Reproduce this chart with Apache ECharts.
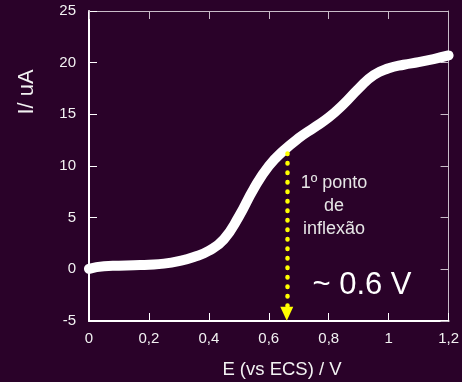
<!DOCTYPE html>
<html>
<head>
<meta charset="utf-8">
<style>html,body{margin:0;padding:0;background:#2a0229;}#c{width:462px;height:382px;}</style>
<script src="https://cdn.jsdelivr.net/npm/echarts@6/dist/echarts.min.js"></script>
</head>
<body>
<div id="c"></div>
<script>
const E = [0, 0.05, 0.1, 0.15, 0.2, 0.25, 0.3, 0.35, 0.4, 0.45, 0.5, 0.55, 0.6, 0.65, 0.7, 0.75, 0.8, 0.85, 0.9, 0.95, 1.0, 1.05, 1.1, 1.15, 1.2];
const I = [0.05, 0.3, 0.35, 0.4, 0.45, 0.55, 0.8, 1.2, 1.8, 2.9, 5.1, 7.8, 10.0, 11.5, 12.7, 13.7, 14.7, 16.0, 17.5, 18.8, 19.45, 19.8, 20.05, 20.35, 20.7];
const xTicks = [0, 0.2, 0.4, 0.6, 0.8, 1, 1.2];
const yTicks = [-5, 0, 5, 10, 15, 20, 25];
const arrowX = 0.66, arrowTop = 11.2, arrowBottom = -4.3;

const font = '"Liberation Sans", Arial, sans-serif';
const fmtX = v => String(Math.round(v * 10) / 10).replace('.', ',');
const chart = echarts.init(document.getElementById('c'));
const common = { min: 0, max: 1.2, interval: 0.2 };
chart.setOption({
  backgroundColor: '#2a0229',
  animation: false,
  grid: { left: 89, right: 8, top: 11, bottom: 61 },
  xAxis: [
    { type: 'value', ...common, position: 'bottom',
      axisLine: { show: true, onZero: false, lineStyle: { color: '#ffffff', width: 2 } },
      axisTick: { show: true, inside: true, length: 8, lineStyle: { color: '#ffffff', width: 1 } },
      axisLabel: { color: '#f2f2f2', fontSize: 15, fontFamily: font, margin: 10, formatter: fmtX },
      splitLine: { show: false } },
    { type: 'value', ...common, position: 'top',
      axisLine: { show: true, onZero: false, lineStyle: { color: '#c8bcc8', width: 1 } },
      axisTick: { show: true, inside: true, length: 8, lineStyle: { color: '#c8bcc8', width: 1 } },
      axisLabel: { show: false }, splitLine: { show: false } }
  ],
  yAxis: [
    { type: 'value', min: -5, max: 25, interval: 5, position: 'left',
      axisLine: { show: true, onZero: false, lineStyle: { color: '#ffffff', width: 2 } },
      axisTick: { show: true, inside: true, length: 8, lineStyle: { color: '#ffffff', width: 1 } },
      axisLabel: { color: '#f2f2f2', fontSize: 15, fontFamily: font, margin: 13 },
      splitLine: { show: false } },
    { type: 'value', min: -5, max: 25, interval: 5, position: 'right',
      axisLine: { show: true, onZero: false, lineStyle: { color: '#c8bcc8', width: 1 } },
      axisTick: { show: true, inside: true, length: 8, lineStyle: { color: '#c8bcc8', width: 1 } },
      axisLabel: { show: false }, splitLine: { show: false } }
  ],
  series: [{
    type: 'line',
    data: E.map((e, i) => [e, I[i]]),
    smooth: true,
    symbol: 'none',
    clip: false,
    lineStyle: { color: '#ffffff', width: 10, cap: 'round', join: 'round' },
    markLine: {
      silent: true,
      symbol: ['none', 'triangle'],
      symbolSize: [13, 14],
      label: { show: false },
      lineStyle: { color: '#ffff00', width: 4.5, type: [0.5, 9], cap: 'round' },
      data: [[{ coord: [arrowX, arrowTop] }, { coord: [arrowX, arrowBottom] }]]
    }
  }],
  graphic: [
    { type: 'text', x: 27, y: 92, rotation: Math.PI / 2,
      style: { text: 'I/ uA', fill: '#f2f2f2', font: '22px ' + font, align: 'center', verticalAlign: 'middle' } },
    { type: 'text', x: 282, y: 370,
      style: { text: 'E (vs ECS) / V', fill: '#f2f2f2', font: '18.5px ' + font, align: 'center', verticalAlign: 'middle' } },
    { type: 'text', x: 334, y: 206,
      style: { text: '1º ponto\nde\ninflexão', fill: '#e6e6e6', font: '18px ' + font, align: 'center', verticalAlign: 'middle', lineHeight: 23 } },
    { type: 'text', x: 362, y: 285,
      style: { text: '~ 0.6 V', fill: '#ffffff', font: '31px ' + font, align: 'center', verticalAlign: 'middle' } }
  ]
});
</script>
</body>
</html>
